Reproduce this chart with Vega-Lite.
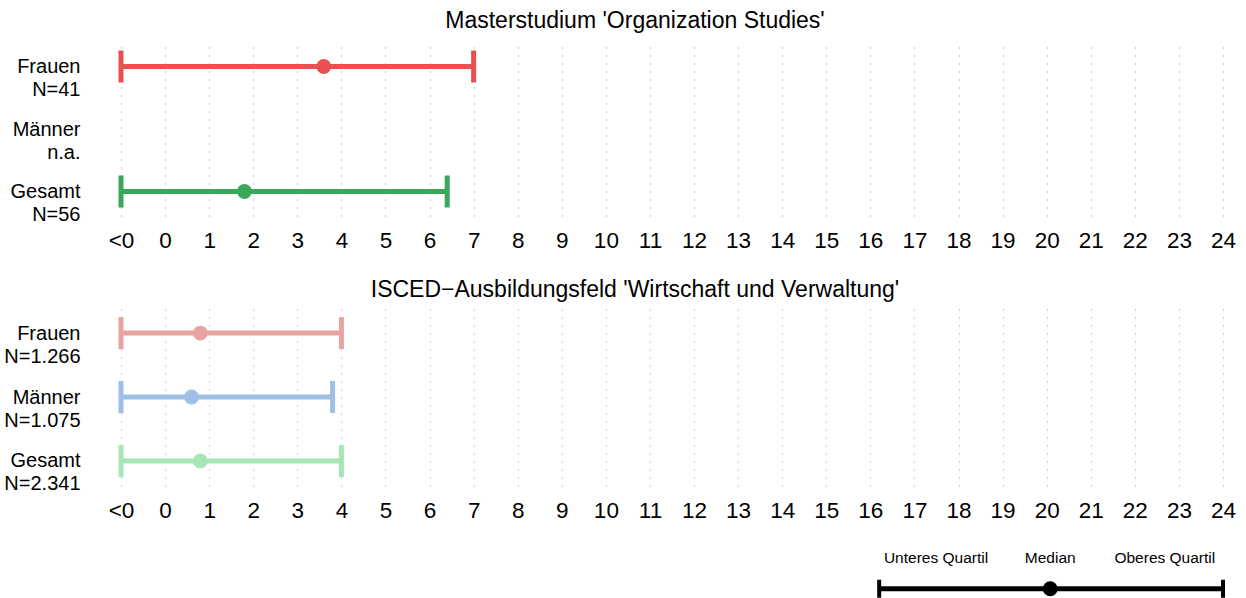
{
  "$schema": "https://vega.github.io/schema/vega-lite/v6.json",
  "padding": {"left": 3, "top": 10, "right": 5, "bottom": 0},
  "config": {"view": {"stroke": null}, "font": "Liberation Sans"},
  "datasets": {
    "werte": [
      {"feld": "Master", "gruppe": "Master Frauen", "label": "Frauen|N=41", "q1": -1, "med": 3.6, "q3": 7},
      {"feld": "Master", "gruppe": "Master Gesamt", "label": "Gesamt|N=56", "q1": -1, "med": 1.8, "q3": 6.4},
      {"feld": "ISCED", "gruppe": "ISCED Frauen", "label": "Frauen|N=1.266", "q1": -1, "med": 0.8, "q3": 4},
      {"feld": "ISCED", "gruppe": "ISCED Männer", "label": "Männer|N=1.075", "q1": -1, "med": 0.6, "q3": 3.8},
      {"feld": "ISCED", "gruppe": "ISCED Gesamt", "label": "Gesamt|N=2.341", "q1": -1, "med": 0.8, "q3": 4}
    ]
  },
  "spacing": 28,
  "vconcat": [
    {
      "spacing": 27,
      "vconcat": [
        {
          "width": 1102, "height": 174,
          "title": {"text": "Masterstudium 'Organization Studies'", "fontSize": 23, "fontWeight": "normal", "offset": 9, "dx": -37, "color": "black"},
          "data": {"name": "werte"},
          "transform": [{"filter": "datum.feld == 'Master'"}],
          "encoding": {
            "y": {"field": "label", "type": "nominal", "title": null,
              "scale": {"type": "point", "domain": ["Frauen|N=41", "Männer|n.a.", "Gesamt|N=56"], "padding": 0.392},
              "axis": {"domain": false, "ticks": false, "grid": false, "labelExpr": "split(datum.label, '|')", "labelFontSize": 20, "labelColor": "black", "labelPadding": 41, "labelLineHeight": 23, "labelAlign": "right", "labelBaseline": "middle"}},
            "color": {"field": "gruppe", "type": "nominal", "legend": null,
              "scale": {"domain": ["Master Frauen", "Master Gesamt", "ISCED Frauen", "ISCED Männer", "ISCED Gesamt"], "range": ["#E8514F", "#3AA85A", "#E8A3A2", "#A0BFE6", "#A6E6B6"]}}
          },
          "layer": [
            {"mark": {"type": "rule", "strokeWidth": 5},
              "encoding": {"x": {"field": "q1", "type": "quantitative", "title": null,
                "scale": {"domain": [-1, 24], "nice": false, "zero": false},
                "axis": {"values": [-1,0,1,2,3,4,5,6,7,8,9,10,11,12,13,14,15,16,17,18,19,20,21,22,23,24], "labelExpr": "datum.value < 0 ? '<0' : datum.label", "grid": true, "gridDash": [1, 7], "gridColor": "#999999", "gridWidth": 1, "domain": false, "ticks": false, "labelFontSize": 22.5, "labelColor": "black", "labelPadding": 13, "labelFlush": false}},
                "x2": {"field": "q3"}}},
            {"mark": {"type": "tick", "orient": "vertical", "size": 32, "thickness": 5, "opacity": 1},
              "encoding": {"x": {"field": "q1", "type": "quantitative"}}},
            {"mark": {"type": "tick", "orient": "vertical", "size": 32, "thickness": 5, "opacity": 1},
              "encoding": {"x": {"field": "q3", "type": "quantitative"}}},
            {"mark": {"type": "point", "filled": true, "size": 220, "opacity": 1},
              "encoding": {"x": {"field": "med", "type": "quantitative"}}}
          ]
        },
        {
          "width": 1102, "height": 178,
          "title": {"text": "ISCED−Ausbildungsfeld 'Wirtschaft und Verwaltung'", "fontSize": 23, "fontWeight": "normal", "offset": 6, "dx": -37, "color": "black"},
          "data": {"name": "werte"},
          "transform": [{"filter": "datum.feld == 'ISCED'"}],
          "encoding": {
            "y": {"field": "label", "type": "nominal", "title": null,
              "scale": {"type": "point", "domain": ["Frauen|N=1.266", "Männer|N=1.075", "Gesamt|N=2.341"], "padding": 0.392},
              "axis": {"domain": false, "ticks": false, "grid": false, "labelExpr": "split(datum.label, '|')", "labelFontSize": 20, "labelColor": "black", "labelPadding": 41, "labelLineHeight": 23, "labelAlign": "right", "labelBaseline": "middle"}},
            "color": {"field": "gruppe", "type": "nominal", "legend": null,
              "scale": {"domain": ["Master Frauen", "Master Gesamt", "ISCED Frauen", "ISCED Männer", "ISCED Gesamt"], "range": ["#E8514F", "#3AA85A", "#E8A3A2", "#A0BFE6", "#A6E6B6"]}}
          },
          "layer": [
            {"mark": {"type": "rule", "strokeWidth": 5},
              "encoding": {"x": {"field": "q1", "type": "quantitative", "title": null,
                "scale": {"domain": [-1, 24], "nice": false, "zero": false},
                "axis": {"values": [-1,0,1,2,3,4,5,6,7,8,9,10,11,12,13,14,15,16,17,18,19,20,21,22,23,24], "labelExpr": "datum.value < 0 ? '<0' : datum.label", "grid": true, "gridDash": [1, 7], "gridColor": "#999999", "gridWidth": 1, "domain": false, "ticks": false, "labelFontSize": 22.5, "labelColor": "black", "labelPadding": 13, "labelFlush": false}},
                "x2": {"field": "q3"}}},
            {"mark": {"type": "tick", "orient": "vertical", "size": 32, "thickness": 5, "opacity": 1},
              "encoding": {"x": {"field": "q1", "type": "quantitative"}}},
            {"mark": {"type": "tick", "orient": "vertical", "size": 32, "thickness": 5, "opacity": 1},
              "encoding": {"x": {"field": "q3", "type": "quantitative"}}},
            {"mark": {"type": "point", "filled": true, "size": 220, "opacity": 1},
              "encoding": {"x": {"field": "med", "type": "quantitative"}}}
          ]
        }
      ]
    },
    {
      "width": 1102, "height": 46.5,
      "encoding": {
        "y": {"field": "zeile", "type": "nominal", "scale": {"type": "point", "domain": ["Text", "Balken"], "padding": 0.25}, "axis": null}
      },
      "layer": [
        {"data": {"values": [
          {"zeile": "Text", "x": 17.49, "text": "Unteres Quartil"},
          {"zeile": "Text", "x": 20.08, "text": "Median"},
          {"zeile": "Text", "x": 22.68, "text": "Oberes Quartil"}]},
         "mark": {"type": "text", "fontSize": 15.5, "color": "black"},
         "encoding": {"x": {"field": "x", "type": "quantitative", "scale": {"domain": [-1, 24], "nice": false, "zero": false}, "axis": null}, "text": {"field": "text"}}},
        {"data": {"values": [{"zeile": "Balken", "q1": 16.2, "med": 20.08, "q3": 24}]},
         "layer": [
           {"mark": {"type": "rule", "strokeWidth": 5, "color": "black"},
             "encoding": {"x": {"field": "q1", "type": "quantitative", "scale": {"domain": [-1, 24], "nice": false, "zero": false}, "axis": null}, "x2": {"field": "q3"}}},
           {"mark": {"type": "tick", "orient": "vertical", "size": 18, "thickness": 4, "color": "black", "opacity": 1},
             "encoding": {"x": {"field": "q1", "type": "quantitative"}}},
           {"mark": {"type": "tick", "orient": "vertical", "size": 18, "thickness": 4, "color": "black", "opacity": 1},
             "encoding": {"x": {"field": "q3", "type": "quantitative"}}},
           {"mark": {"type": "point", "filled": true, "size": 220, "color": "black", "opacity": 1},
             "encoding": {"x": {"field": "med", "type": "quantitative"}}}
         ]}
      ]
    }
  ]
}
